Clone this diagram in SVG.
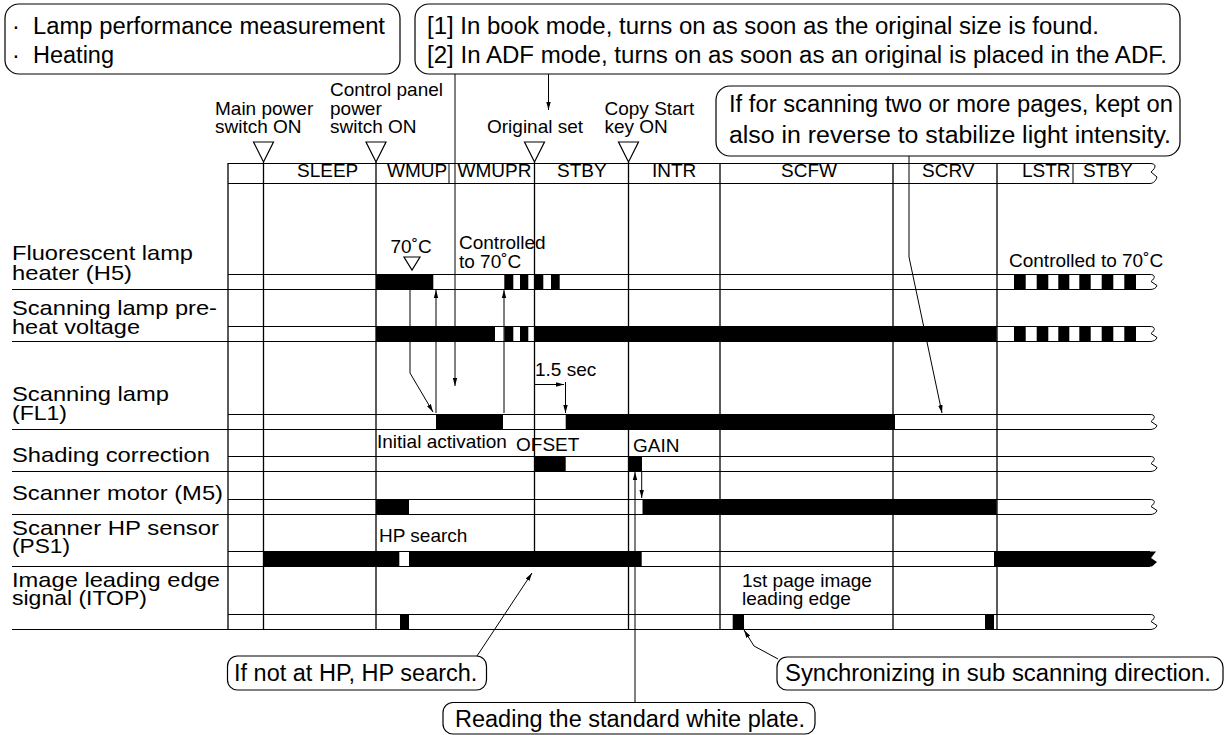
<svg xmlns="http://www.w3.org/2000/svg" width="1231" height="735" viewBox="0 0 1231 735">
<style>
.t{font-family:"Liberation Sans",Arial,Helvetica,sans-serif;fill:#000}
.big{font-size:23.5px}
.lab{font-size:21px}
.sm{font-size:19px}
.box{fill:#fff;stroke:#000;stroke-width:1.2}
.ln{fill:none;stroke:#000;stroke-width:1}
.vl{fill:none;stroke:#000;stroke-width:1.3}
.on{fill:#000}
.tri{fill:#fff;stroke:#000;stroke-width:1.2}
.conn{fill:none;stroke:#000;stroke-width:1;marker-end:url(#ah)}
</style>
<defs>
<marker id="ah" markerWidth="8" markerHeight="6" refX="8" refY="3" orient="auto" markerUnits="userSpaceOnUse"><path d="M0,0.8 L8,3 L0,5.2 z" fill="#000"/></marker>
<path id="zz" d="M0,0 C5,0 6,3 1,7 L7,11 C6,14 3,15 0,15" fill="none" stroke="#000" stroke-width="1"/>
</defs>
<rect width="1231" height="735" fill="#fff"/>

<g id="note-lamp">
<rect class="box" x="5" y="4" width="395" height="70" rx="14"/>
<text class="t big" y="34"><tspan x="12">·</tspan><tspan x="33" textLength="352" lengthAdjust="spacingAndGlyphs">Lamp performance measurement</tspan></text>
<text class="t big" y="63"><tspan x="12">·</tspan><tspan x="33">Heating</tspan></text>
</g>
<g id="note-mode">
<rect class="box" x="415" y="4" width="765" height="70" rx="14"/>
<text class="t big" x="427" y="34" textLength="672" lengthAdjust="spacingAndGlyphs">[1] In book mode, turns on as soon as the original size is found.</text>
<text class="t big" x="427" y="63" textLength="740" lengthAdjust="spacingAndGlyphs">[2] In ADF mode, turns on as soon as an original is placed in the ADF.</text>
</g>
<g id="note-reverse">
<rect class="box" x="716" y="86" width="464" height="70" rx="14"/>
<text class="t big" x="729" y="112" textLength="444" lengthAdjust="spacingAndGlyphs">If for scanning two or more pages, kept on</text>
<text class="t big" x="729" y="143" textLength="442" lengthAdjust="spacingAndGlyphs">also in reverse to stabilize light intensity.</text>
</g>

<g id="events">
<text class="t sm" x="215" y="114.5">Main power</text>
<text class="t sm" x="215" y="133">switch ON</text>
<polygon class="tri" points="253.5,142 273.5,142 263.5,162"/>
<text class="t sm" x="330" y="96">Control panel</text>
<text class="t sm" x="330" y="114.5">power</text>
<text class="t sm" x="330" y="133">switch ON</text>
<polygon class="tri" points="366,142 386,142 376,162"/>
<text class="t sm" x="487" y="133">Original set</text>
<polygon class="tri" points="524.5,142 544.5,142 534.5,162"/>
<text class="t sm" x="604.5" y="114.5">Copy Start</text>
<text class="t sm" x="604.5" y="133">key ON</text>
<polygon class="tri" points="618.5,142 638.5,142 628.5,162"/>
</g>

<g id="grid">
<line class="vl" x1="228" y1="163" x2="228" y2="629.5"/>
<line class="vl" x1="263.5" y1="162" x2="263.5" y2="629.5"/>
<line class="vl" x1="376" y1="162" x2="376" y2="629.5"/>
<line class="vl" x1="534.5" y1="162" x2="534.5" y2="551.5"/>
<line class="vl" x1="628.5" y1="162" x2="628.5" y2="629.5"/>
<line class="vl" x1="720" y1="163" x2="720" y2="629.5"/>
<line class="vl" x1="893" y1="163" x2="893" y2="629.5"/>
<line class="vl" x1="997" y1="163" x2="997" y2="629.5"/>
</g>

<g id="header">
<line class="ln" x1="228" y1="163.5" x2="1150" y2="163.5"/>
<line class="ln" x1="228" y1="183.5" x2="1150" y2="183.5"/>
<path class="ln" d="M1150,163.5 C1156,163.5 1157,167 1151,172 L1157,177 C1156,181 1153,183.5 1150,183.5"/>
<line class="ln" x1="449" y1="163.5" x2="449" y2="183.5"/>
<line class="ln" x1="1073" y1="163.5" x2="1073" y2="183.5"/>
<text class="t sm" x="297" y="177">SLEEP</text>
<text class="t sm" x="387" y="177">WMUP</text>
<text class="t sm" x="457.5" y="177">WMUPR</text>
<text class="t sm" x="557" y="177">STBY</text>
<text class="t sm" x="652" y="177">INTR</text>
<text class="t sm" x="781" y="177">SCFW</text>
<text class="t sm" x="922" y="177">SCRV</text>
<text class="t sm" x="1022" y="177">LSTR</text>
<text class="t sm" x="1083" y="177">STBY</text>
</g>

<g id="row-h5">
<text class="t lab" x="12" y="260" textLength="181" lengthAdjust="spacingAndGlyphs">Fluorescent lamp</text>
<text class="t lab" x="12" y="280" textLength="120" lengthAdjust="spacingAndGlyphs">heater (H5)</text>
<line class="ln" x1="228" y1="274.5" x2="1150" y2="274.5"/>
<line class="ln" x1="12" y1="289.5" x2="1150" y2="289.5"/>
<use href="#zz" x="1150" y="274.5"/>
<g class="on">
<rect x="376" y="274.5" width="57.3" height="15"/>
<rect x="504.3" y="274.5" width="9" height="15"/>
<rect x="520" y="274.5" width="8.3" height="15"/>
<rect x="534.3" y="274.5" width="9" height="15"/>
<rect x="551" y="274.5" width="8.7" height="15"/>
<rect x="1014" y="274.5" width="11.7" height="15"/>
<rect x="1036.7" y="274.5" width="11.6" height="15"/>
<rect x="1058.3" y="274.5" width="11" height="15"/>
<rect x="1079.3" y="274.5" width="11.4" height="15"/>
<rect x="1101.7" y="274.5" width="11.6" height="15"/>
<rect x="1124.3" y="274.5" width="11.7" height="15"/>
</g>
<text class="t sm" x="390.5" y="253">70˚C</text>
<polygon class="tri" points="404,257 420,257 412,270"/>
<text class="t sm" x="459" y="249">Controlled</text>
<text class="t sm" x="459" y="268">to 70˚C</text>
<text class="t sm" x="1009" y="267">Controlled to 70˚C</text>
</g>

<g id="row-preheat">
<text class="t lab" x="12" y="315" textLength="205" lengthAdjust="spacingAndGlyphs">Scanning lamp pre-</text>
<text class="t lab" x="12" y="334" textLength="128" lengthAdjust="spacingAndGlyphs">heat voltage</text>
<line class="ln" x1="228" y1="326.5" x2="1150" y2="326.5"/>
<line class="ln" x1="12" y1="341.5" x2="1150" y2="341.5"/>
<use href="#zz" x="1150" y="326.5"/>
<g class="on">
<rect x="376" y="326.5" width="119" height="15"/>
<rect x="504.3" y="326.5" width="9" height="15"/>
<rect x="520" y="326.5" width="8.3" height="15"/>
<rect x="534.3" y="326.5" width="462.4" height="15"/>
<rect x="1014" y="326.5" width="11.7" height="15"/>
<rect x="1036.7" y="326.5" width="11.6" height="15"/>
<rect x="1058.3" y="326.5" width="11" height="15"/>
<rect x="1079.3" y="326.5" width="11.4" height="15"/>
<rect x="1101.7" y="326.5" width="11.6" height="15"/>
<rect x="1124.3" y="326.5" width="11.7" height="15"/>
</g>
</g>

<g id="row-fl1">
<text class="t lab" x="12" y="401" textLength="157" lengthAdjust="spacingAndGlyphs">Scanning lamp</text>
<text class="t lab" x="12" y="420" textLength="55" lengthAdjust="spacingAndGlyphs">(FL1)</text>
<line class="ln" x1="228" y1="414.5" x2="1150" y2="414.5"/>
<line class="ln" x1="12" y1="429.5" x2="1150" y2="429.5"/>
<use href="#zz" x="1150" y="414.5"/>
<g class="on">
<rect x="436" y="414.5" width="67" height="15"/>
<rect x="565.7" y="414.5" width="329.3" height="15"/>
</g>
<text class="t sm" x="535" y="376">1.5 sec</text>
</g>

<g id="row-shading">
<text class="t lab" x="12" y="462" textLength="198" lengthAdjust="spacingAndGlyphs">Shading correction</text>
<line class="ln" x1="228" y1="456.5" x2="1150" y2="456.5"/>
<line class="ln" x1="12" y1="471.5" x2="1150" y2="471.5"/>
<use href="#zz" x="1150" y="456.5"/>
<g class="on">
<rect x="534.3" y="456.5" width="31.4" height="15"/>
<rect x="628.3" y="456.5" width="13.7" height="15"/>
</g>
<text class="t sm" x="377" y="448">Initial activation</text>
<text class="t sm" x="516" y="451">OFSET</text>
<text class="t sm" x="633" y="452">GAIN</text>
</g>

<g id="row-m5">
<text class="t lab" x="12" y="500" textLength="211" lengthAdjust="spacingAndGlyphs">Scanner motor (M5)</text>
<line class="ln" x1="228" y1="499.5" x2="1150" y2="499.5"/>
<line class="ln" x1="12" y1="514.5" x2="1150" y2="514.5"/>
<use href="#zz" x="1150" y="499.5"/>
<g class="on">
<rect x="376" y="499.5" width="33" height="15"/>
<rect x="642.5" y="499.5" width="354.2" height="15"/>
</g>
</g>

<g id="row-ps1">
<text class="t lab" x="12" y="535" textLength="207" lengthAdjust="spacingAndGlyphs">Scanner HP sensor</text>
<text class="t lab" x="12" y="553" textLength="58" lengthAdjust="spacingAndGlyphs">(PS1)</text>
<line class="ln" x1="228" y1="551.5" x2="1150" y2="551.5"/>
<line class="ln" x1="12" y1="566.5" x2="1150" y2="566.5"/>
<g class="on">
<rect x="263.3" y="551.5" width="136" height="15"/>
<rect x="409" y="551.5" width="232.7" height="15"/>
<polygon points="994,551.5 1156,551.5 1151,558 1157,562 1152,566.5 994,566.5"/>
</g>
<text class="t sm" x="379" y="542">HP search</text>
</g>

<g id="row-itop">
<text class="t lab" x="12" y="587" textLength="208" lengthAdjust="spacingAndGlyphs">Image leading edge</text>
<text class="t lab" x="12" y="605" textLength="135" lengthAdjust="spacingAndGlyphs">signal (ITOP)</text>
<line class="ln" x1="228" y1="614.5" x2="1150" y2="614.5"/>
<line class="ln" x1="12" y1="629.5" x2="1150" y2="629.5"/>
<use href="#zz" x="1150" y="614.5"/>
<g class="on">
<rect x="400" y="614.5" width="9" height="15"/>
<rect x="732.7" y="614.5" width="11.3" height="15"/>
<rect x="985" y="614.5" width="9" height="15"/>
</g>
<text class="t sm" x="742" y="587">1st page image</text>
<text class="t sm" x="742" y="605">leading edge</text>
</g>

<g id="callout-hp">
<rect class="box" x="227.5" y="656" width="259" height="34" rx="10"/>
<text class="t big" x="234" y="681">If not at HP, HP search.</text>
</g>
<g id="callout-sync">
<rect class="box" x="777" y="657" width="446" height="33" rx="10"/>
<text class="t big" x="785" y="681" textLength="426" lengthAdjust="spacingAndGlyphs">Synchronizing in sub scanning direction.</text>
</g>
<g id="callout-white">
<rect class="box" x="443" y="702.5" width="372" height="31.5" rx="10"/>
<text class="t big" x="455" y="727">Reading the standard white plate.</text>
</g>

<g id="connectors">
<path class="conn" d="M455,74 L455,386"/>
<path class="conn" d="M548.5,74 L548.5,110"/>
<path class="conn" d="M909,156 L909,257 L942,413"/>
<path class="conn" d="M410,289.5 L410,373 L433,412"/>
<path class="conn" d="M436,413 L436,290"/>
<path class="conn" d="M504,413 L504,290"/>
<path class="conn" d="M534.5,384.5 L564,384.5"/>
<path class="conn" d="M565.5,382 L565.5,413"/>
<path class="conn" d="M477,656 L532,573"/>
<path class="conn" d="M635,702.5 L635,472"/>
<path class="conn" d="M641.7,471.5 L641.7,498"/>
<path class="conn" d="M778,659 L754,646 L744,630"/>
</g>
</svg>
